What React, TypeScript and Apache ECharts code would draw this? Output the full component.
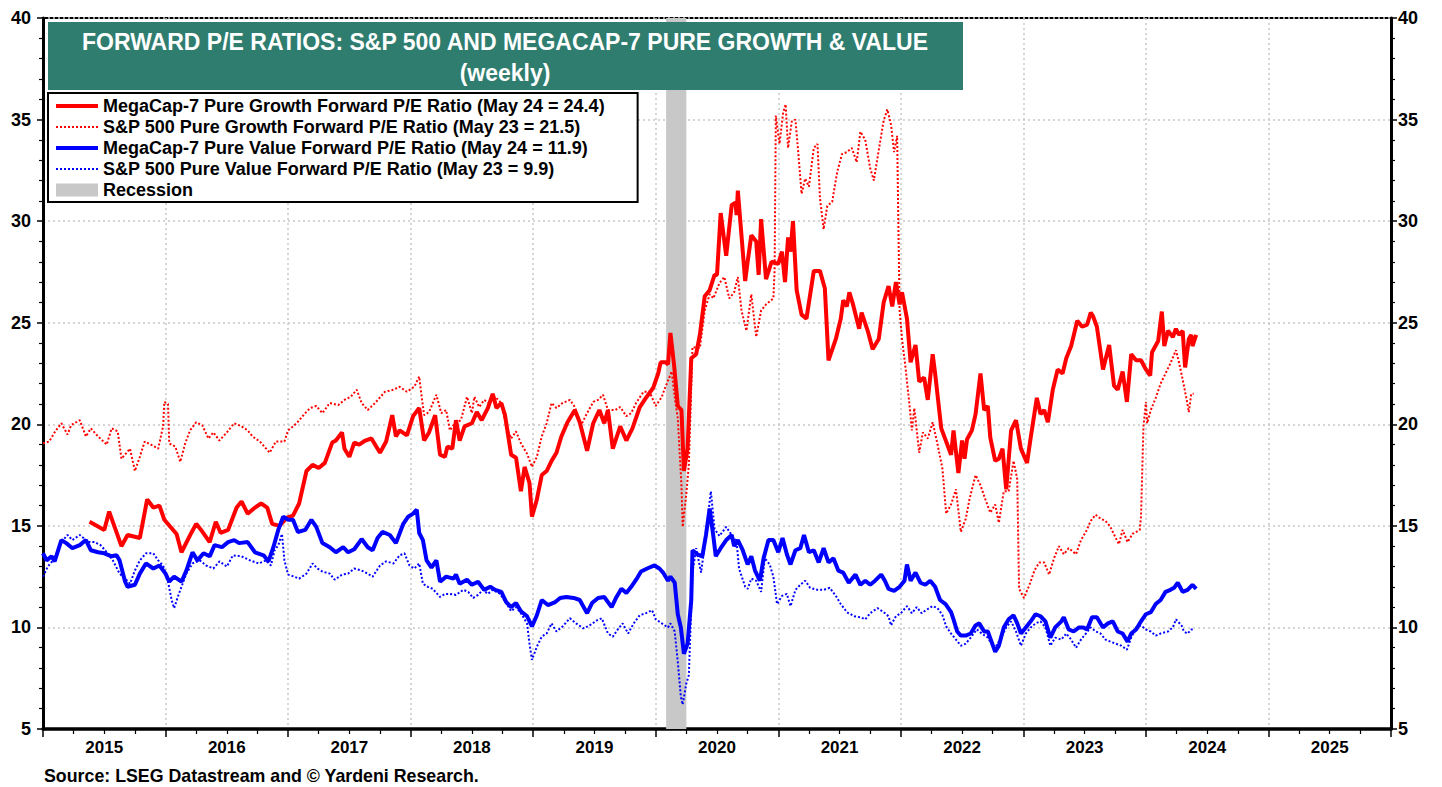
import React, { useEffect, useRef } from "react";
import * as echarts from "echarts";

// ---------- DATA (decimal year, P/E) ----------
const megaGrowth: [number, number][] = [
  [2015.38, 15.2], [2015.5, 14.8], [2015.54, 15.7], [2015.64, 14.0], [2015.69, 14.55], [2015.79, 14.4],
  [2015.85, 16.3], [2015.9, 15.9], [2015.95, 16.0], [2015.99, 15.3], [2016.09, 14.6], [2016.13, 13.7],
  [2016.21, 14.65], [2016.25, 15.1], [2016.29, 14.8], [2016.36, 14.2], [2016.41, 15.2], [2016.45, 14.65],
  [2016.51, 14.8], [2016.58, 15.9], [2016.62, 16.2], [2016.67, 15.6], [2016.73, 15.9], [2016.78, 16.1],
  [2016.83, 15.9], [2016.87, 15.1], [2016.93, 15.0], [2016.99, 15.4], [2017.04, 15.5], [2017.09, 16.1],
  [2017.15, 17.7], [2017.2, 18.0], [2017.25, 17.85], [2017.3, 18.1], [2017.36, 19.1], [2017.39, 19.2],
  [2017.44, 19.6], [2017.46, 18.8], [2017.5, 18.4], [2017.54, 19.1], [2017.58, 19.0], [2017.63, 19.2],
  [2017.68, 19.3], [2017.75, 18.6], [2017.8, 19.15], [2017.85, 20.45], [2017.88, 19.4], [2017.91, 19.7],
  [2017.97, 19.45], [2018.02, 20.4], [2018.07, 20.8], [2018.11, 19.2], [2018.15, 19.6], [2018.2, 20.45],
  [2018.24, 18.5], [2018.28, 18.4], [2018.3, 18.9], [2018.34, 18.8], [2018.37, 20.2], [2018.4, 19.2],
  [2018.44, 19.9], [2018.5, 20.05], [2018.54, 20.6], [2018.58, 20.2], [2018.63, 20.8], [2018.67, 21.5],
  [2018.7, 20.8], [2018.74, 21.05], [2018.77, 20.45], [2018.82, 18.5], [2018.86, 18.35], [2018.9, 16.7],
  [2018.93, 17.9], [2018.97, 17.1], [2018.99, 15.45], [2019.03, 16.3], [2019.07, 17.5], [2019.11, 17.7],
  [2019.15, 18.2], [2019.19, 18.6], [2019.23, 19.4], [2019.28, 20.1], [2019.34, 20.7], [2019.38, 20.1],
  [2019.44, 18.7], [2019.49, 20.05], [2019.54, 20.7], [2019.58, 20.05], [2019.61, 20.7], [2019.65, 18.8],
  [2019.71, 19.9], [2019.76, 19.2], [2019.81, 19.8], [2019.87, 20.85], [2019.92, 21.3], [2019.98, 21.8],
  [2020.02, 22.5], [2020.04, 23.05], [2020.08, 23.05], [2020.1, 22.95], [2020.12, 24.5], [2020.15, 22.9],
  [2020.18, 20.9], [2020.21, 20.7], [2020.23, 17.7], [2020.26, 18.8], [2020.29, 23.25], [2020.33, 23.45],
  [2020.36, 24.4], [2020.4, 26.3], [2020.44, 26.6], [2020.48, 27.35], [2020.5, 27.35], [2020.53, 30.4],
  [2020.575, 28.3], [2020.62, 30.8], [2020.65, 30.9], [2020.66, 30.3], [2020.67, 31.5], [2020.73, 27.05],
  [2020.75, 28.0], [2020.78, 29.3], [2020.82, 29.0], [2020.84, 27.35], [2020.86, 30.1], [2020.9, 27.15],
  [2020.945, 28.0], [2021.0, 27.9], [2021.03, 28.5], [2021.055, 27.0], [2021.08, 29.2], [2021.1, 28.5],
  [2021.12, 30.0], [2021.15, 26.6], [2021.19, 25.4], [2021.23, 25.2], [2021.29, 27.55], [2021.34, 27.55],
  [2021.38, 26.7], [2021.41, 23.15], [2021.47, 24.2], [2021.51, 25.2], [2021.53, 26.1], [2021.56, 25.8],
  [2021.58, 26.5], [2021.61, 25.9], [2021.66, 24.7], [2021.68, 25.5], [2021.73, 24.6], [2021.77, 23.7],
  [2021.82, 24.2], [2021.86, 26.0], [2021.9, 26.8], [2021.93, 25.8], [2021.96, 27.0], [2021.99, 25.9],
  [2022.01, 26.5], [2022.05, 25.2], [2022.08, 23.05], [2022.12, 23.9], [2022.15, 22.1], [2022.19, 22.3],
  [2022.22, 21.2], [2022.26, 23.45], [2022.28, 22.5], [2022.33, 19.8], [2022.41, 18.5], [2022.43, 19.7],
  [2022.47, 17.6], [2022.5, 19.2], [2022.52, 18.3], [2022.54, 19.25], [2022.58, 19.7], [2022.61, 20.5],
  [2022.65, 22.5], [2022.68, 20.7], [2022.71, 20.9], [2022.73, 19.35], [2022.77, 18.2], [2022.8, 18.3],
  [2022.83, 18.8], [2022.86, 16.8], [2022.9, 19.7], [2022.94, 20.2], [2022.98, 18.8], [2023.03, 18.1],
  [2023.06, 19.35], [2023.11, 21.3], [2023.14, 20.5], [2023.17, 20.7], [2023.2, 20.1], [2023.24, 21.7],
  [2023.28, 22.7], [2023.32, 22.5], [2023.35, 23.25], [2023.39, 23.85], [2023.44, 25.1], [2023.48, 24.8],
  [2023.52, 24.9], [2023.55, 25.5], [2023.57, 25.3], [2023.6, 24.8], [2023.65, 22.7], [2023.7, 23.9],
  [2023.74, 21.9], [2023.77, 21.7], [2023.81, 22.6], [2023.845, 21.1], [2023.88, 23.45], [2023.92, 23.15],
  [2023.96, 23.15], [2024.0, 22.7], [2024.035, 22.4], [2024.05, 23.55], [2024.1, 24.1], [2024.13, 25.55],
  [2024.15, 23.85], [2024.18, 24.6], [2024.22, 24.3], [2024.245, 24.7], [2024.27, 24.4], [2024.3, 24.6],
  [2024.32, 22.8], [2024.35, 24.2], [2024.37, 24.4], [2024.38, 23.85], [2024.41, 24.4],
];

const spGrowth: [number, number][] = [
  [2015.0, 19.06], [2015.05, 19.15], [2015.1, 19.65], [2015.15, 20.05], [2015.2, 19.5], [2015.23, 19.96],
  [2015.3, 20.2], [2015.35, 19.4], [2015.39, 19.8], [2015.45, 19.4], [2015.52, 19.0], [2015.56, 19.8],
  [2015.61, 19.65], [2015.64, 18.3], [2015.71, 18.8], [2015.75, 17.7], [2015.79, 18.4], [2015.83, 19.15],
  [2015.88, 19.0], [2015.94, 18.8], [2015.98, 19.9], [2015.99, 21.1], [2016.02, 21.0], [2016.03, 19.06],
  [2016.08, 18.9], [2016.12, 18.15], [2016.16, 19.05], [2016.2, 19.7], [2016.25, 20.1], [2016.3, 19.95],
  [2016.35, 19.3], [2016.39, 19.6], [2016.44, 19.2], [2016.5, 19.6], [2016.56, 20.05], [2016.62, 19.9],
  [2016.67, 19.7], [2016.71, 19.4], [2016.77, 19.15], [2016.85, 18.6], [2016.9, 19.15], [2016.97, 19.15],
  [2017.0, 19.7], [2017.07, 20.05], [2017.14, 20.55], [2017.18, 20.8], [2017.23, 20.9], [2017.28, 20.55],
  [2017.34, 21.05], [2017.41, 20.95], [2017.46, 21.2], [2017.51, 21.35], [2017.56, 21.7], [2017.6, 21.05],
  [2017.65, 20.7], [2017.71, 21.05], [2017.79, 21.6], [2017.86, 21.7], [2017.91, 21.85], [2017.97, 21.6],
  [2018.03, 21.85], [2018.07, 22.35], [2018.09, 21.35], [2018.11, 20.45], [2018.15, 20.6], [2018.21, 21.45],
  [2018.25, 20.55], [2018.29, 20.7], [2018.32, 19.7], [2018.36, 20.05], [2018.41, 20.2], [2018.46, 21.35],
  [2018.5, 20.55], [2018.52, 21.35], [2018.56, 20.85], [2018.6, 21.2], [2018.64, 21.05], [2018.69, 21.35],
  [2018.74, 21.05], [2018.78, 19.9], [2018.82, 19.3], [2018.86, 19.65], [2018.9, 19.06], [2018.95, 18.55],
  [2018.99, 17.9], [2019.03, 18.4], [2019.07, 19.4], [2019.11, 20.05], [2019.15, 21.05], [2019.19, 20.8],
  [2019.24, 21.05], [2019.3, 21.2], [2019.34, 20.85], [2019.39, 19.95], [2019.44, 20.55], [2019.49, 21.1],
  [2019.53, 21.2], [2019.57, 21.45], [2019.61, 20.7], [2019.67, 20.7], [2019.71, 20.85], [2019.76, 20.4],
  [2019.8, 20.55], [2019.84, 21.05], [2019.9, 21.6], [2019.95, 21.6], [2020.0, 20.9], [2020.05, 21.35],
  [2020.07, 21.7], [2020.13, 22.6], [2020.16, 21.1], [2020.18, 20.3], [2020.21, 17.0], [2020.22, 14.95],
  [2020.25, 16.6], [2020.27, 18.0], [2020.3, 23.8], [2020.36, 23.75], [2020.4, 25.6], [2020.44, 26.4],
  [2020.47, 26.2], [2020.52, 26.95], [2020.56, 27.25], [2020.6, 26.2], [2020.64, 26.5], [2020.67, 27.25],
  [2020.7, 25.6], [2020.74, 24.6], [2020.78, 26.4], [2020.82, 24.3], [2020.86, 25.6], [2020.9, 25.9],
  [2020.96, 26.2], [2020.97, 27.55], [2020.98, 35.2], [2021.01, 33.8], [2021.04, 35.35], [2021.06, 35.75],
  [2021.08, 33.6], [2021.11, 34.9], [2021.14, 35.0], [2021.16, 33.6], [2021.19, 31.35], [2021.22, 32.1],
  [2021.25, 31.7], [2021.29, 33.6], [2021.32, 33.8], [2021.34, 31.15], [2021.37, 29.6], [2021.4, 30.75],
  [2021.44, 30.95], [2021.48, 32.4], [2021.52, 33.3], [2021.56, 33.4], [2021.6, 33.6], [2021.64, 32.9],
  [2021.67, 34.4], [2021.71, 34.0], [2021.75, 32.6], [2021.78, 32.0], [2021.82, 33.5], [2021.86, 34.95],
  [2021.89, 35.5], [2021.92, 34.75], [2021.945, 33.4], [2021.97, 34.2], [2021.99, 25.6], [2022.01, 24.2],
  [2022.04, 22.7], [2022.07, 21.0], [2022.09, 19.7], [2022.11, 20.8], [2022.15, 18.6], [2022.18, 19.6],
  [2022.22, 19.3], [2022.26, 20.1], [2022.3, 19.0], [2022.34, 17.8], [2022.37, 15.6], [2022.41, 16.05],
  [2022.45, 16.8], [2022.49, 14.7], [2022.53, 15.35], [2022.56, 16.3], [2022.61, 17.5], [2022.65, 17.0],
  [2022.69, 16.3], [2022.73, 15.65], [2022.77, 16.05], [2022.8, 15.15], [2022.84, 16.7], [2022.88, 16.7],
  [2022.92, 18.2], [2022.95, 17.3], [2022.965, 11.9], [2023.005, 11.45], [2023.05, 12.1], [2023.09, 12.8],
  [2023.13, 13.2], [2023.17, 13.2], [2023.21, 12.6], [2023.25, 13.4], [2023.29, 14.0], [2023.33, 13.6],
  [2023.37, 13.9], [2023.43, 13.6], [2023.47, 14.3], [2023.51, 14.7], [2023.55, 15.25], [2023.59, 15.55],
  [2023.63, 15.35], [2023.67, 15.25], [2023.71, 14.95], [2023.75, 14.45], [2023.78, 14.1], [2023.81, 14.8],
  [2023.85, 14.2], [2023.89, 14.6], [2023.95, 14.8], [2023.96, 15.45], [2023.98, 19.9], [2024.0, 21.1],
  [2024.01, 20.05], [2024.04, 20.7], [2024.08, 21.3], [2024.12, 22.0], [2024.16, 22.5], [2024.2, 23.0],
  [2024.245, 23.65], [2024.27, 23.05], [2024.3, 22.2], [2024.33, 21.3], [2024.35, 20.6], [2024.37, 21.5],
  [2024.39, 21.5],
];

const megaValue: [number, number][] = [
  [2015.0, 13.65], [2015.03, 13.3], [2015.07, 13.5], [2015.095, 13.25], [2015.15, 14.3], [2015.19, 14.15],
  [2015.24, 13.9], [2015.3, 14.05], [2015.35, 14.3], [2015.39, 13.8], [2015.45, 13.7], [2015.5, 13.65],
  [2015.56, 13.5], [2015.6, 13.55], [2015.625, 13.3], [2015.67, 12.25], [2015.69, 12.0], [2015.75, 12.1],
  [2015.79, 12.65], [2015.84, 13.15], [2015.9, 12.9], [2015.95, 13.05], [2016.0, 12.65], [2016.03, 12.25],
  [2016.07, 12.5], [2016.13, 12.25], [2016.17, 12.8], [2016.22, 13.7], [2016.26, 13.3], [2016.31, 13.65],
  [2016.36, 13.5], [2016.4, 14.05], [2016.46, 13.95], [2016.51, 14.2], [2016.56, 14.3], [2016.6, 14.15],
  [2016.67, 14.2], [2016.73, 13.7], [2016.8, 13.55], [2016.84, 13.25], [2016.88, 13.95], [2016.92, 14.8],
  [2016.96, 15.45], [2017.0, 15.3], [2017.04, 15.3], [2017.08, 14.7], [2017.14, 14.8], [2017.19, 15.3],
  [2017.23, 14.95], [2017.28, 14.15], [2017.34, 13.95], [2017.39, 13.7], [2017.45, 13.95], [2017.49, 13.7],
  [2017.54, 13.85], [2017.6, 14.35], [2017.65, 13.95], [2017.69, 13.8], [2017.73, 14.4], [2017.77, 14.7],
  [2017.83, 14.55], [2017.88, 14.15], [2017.94, 15.1], [2017.98, 15.45], [2018.02, 15.6], [2018.05, 15.8],
  [2018.07, 14.65], [2018.1, 14.3], [2018.13, 13.3], [2018.17, 12.95], [2018.21, 13.3], [2018.24, 12.25],
  [2018.29, 12.5], [2018.35, 12.4], [2018.37, 12.6], [2018.4, 12.15], [2018.46, 12.35], [2018.5, 12.1],
  [2018.55, 12.25], [2018.6, 11.85], [2018.65, 12.0], [2018.69, 11.85], [2018.74, 11.75], [2018.78, 11.25],
  [2018.82, 11.0], [2018.86, 11.2], [2018.9, 10.8], [2018.95, 10.55], [2018.99, 10.05], [2019.03, 10.6],
  [2019.07, 11.35], [2019.12, 11.1], [2019.18, 11.25], [2019.22, 11.45], [2019.27, 11.5], [2019.33, 11.45],
  [2019.38, 11.35], [2019.44, 10.7], [2019.48, 11.2], [2019.53, 11.45], [2019.58, 11.5], [2019.64, 11.0],
  [2019.68, 11.5], [2019.72, 11.9], [2019.76, 11.7], [2019.8, 12.0], [2019.84, 12.35], [2019.88, 12.75],
  [2019.93, 12.9], [2019.99, 13.05], [2020.03, 12.9], [2020.06, 12.7], [2020.1, 12.3], [2020.12, 12.5],
  [2020.155, 12.2], [2020.18, 10.65], [2020.205, 10.0], [2020.23, 8.7], [2020.26, 9.2], [2020.29, 11.35],
  [2020.3, 13.8], [2020.34, 13.6], [2020.38, 13.5], [2020.41, 14.55], [2020.44, 15.85], [2020.47, 14.5],
  [2020.49, 13.5], [2020.53, 13.9], [2020.575, 14.3], [2020.62, 14.55], [2020.64, 14.0], [2020.67, 14.3],
  [2020.71, 13.8], [2020.75, 13.1], [2020.78, 13.5], [2020.81, 12.8], [2020.85, 12.3], [2020.88, 13.4],
  [2020.92, 14.3], [2020.96, 14.3], [2021.0, 13.7], [2021.035, 14.4], [2021.07, 13.6], [2021.1, 13.1],
  [2021.14, 13.8], [2021.18, 13.9], [2021.21, 14.55], [2021.25, 13.7], [2021.29, 13.8], [2021.33, 13.2],
  [2021.37, 13.9], [2021.41, 13.2], [2021.45, 13.4], [2021.49, 12.8], [2021.53, 12.7], [2021.575, 12.2],
  [2021.63, 12.6], [2021.67, 12.1], [2021.71, 12.3], [2021.75, 12.1], [2021.79, 12.3], [2021.84, 12.6],
  [2021.87, 12.3], [2021.9, 11.9], [2021.945, 11.8], [2021.99, 12.0], [2022.03, 12.3], [2022.05, 13.1],
  [2022.08, 12.3], [2022.12, 12.7], [2022.16, 12.2], [2022.2, 12.1], [2022.24, 12.3], [2022.28, 12.0],
  [2022.32, 11.35], [2022.365, 11.15], [2022.41, 10.75], [2022.43, 10.4], [2022.46, 9.8], [2022.49, 9.6],
  [2022.53, 9.6], [2022.57, 9.7], [2022.61, 10.1], [2022.64, 10.2], [2022.68, 9.8], [2022.71, 9.8],
  [2022.74, 9.3], [2022.77, 8.8], [2022.8, 9.1], [2022.84, 10.0], [2022.88, 10.4], [2022.92, 10.6],
  [2022.95, 10.2], [2022.98, 9.7], [2023.02, 10.0], [2023.06, 10.3], [2023.1, 10.65], [2023.14, 10.55],
  [2023.18, 10.3], [2023.22, 9.5], [2023.26, 10.0], [2023.31, 10.3], [2023.33, 10.5], [2023.37, 9.9],
  [2023.41, 9.8], [2023.455, 10.0], [2023.49, 10.0], [2023.52, 9.9], [2023.56, 10.5], [2023.6, 10.5],
  [2023.65, 10.0], [2023.69, 10.2], [2023.73, 10.3], [2023.77, 9.8], [2023.81, 9.7], [2023.85, 9.3],
  [2023.88, 9.7], [2023.92, 9.9], [2023.96, 10.3], [2024.0, 10.65], [2024.04, 10.75], [2024.08, 11.15],
  [2024.12, 11.35], [2024.16, 11.75], [2024.2, 11.85], [2024.23, 11.95], [2024.26, 12.2], [2024.3, 11.75],
  [2024.34, 11.85], [2024.38, 12.1], [2024.41, 11.9],
];

const spValue: [number, number][] = [
  [2015.0, 12.5], [2015.04, 13.0], [2015.095, 13.4], [2015.15, 14.2], [2015.2, 14.55], [2015.24, 14.3],
  [2015.3, 14.55], [2015.37, 14.2], [2015.42, 14.2], [2015.47, 14.05], [2015.52, 13.7], [2015.57, 13.3],
  [2015.625, 12.65], [2015.67, 12.4], [2015.71, 12.15], [2015.75, 12.8], [2015.79, 13.3], [2015.84, 13.65],
  [2015.9, 13.65], [2015.94, 13.3], [2015.98, 13.05], [2016.02, 12.25], [2016.05, 11.35], [2016.07, 10.95],
  [2016.1, 11.5], [2016.13, 12.0], [2016.17, 12.65], [2016.22, 13.15], [2016.28, 13.3], [2016.33, 13.05],
  [2016.39, 12.9], [2016.44, 13.25], [2016.5, 13.0], [2016.55, 13.55], [2016.62, 13.5], [2016.69, 13.3],
  [2016.76, 13.15], [2016.82, 13.3], [2016.86, 13.05], [2016.89, 13.8], [2016.92, 14.05], [2016.95, 14.6],
  [2016.97, 13.3], [2017.0, 12.6], [2017.05, 12.5], [2017.09, 12.4], [2017.15, 12.65], [2017.2, 13.15],
  [2017.24, 12.9], [2017.28, 12.75], [2017.34, 12.65], [2017.38, 12.35], [2017.44, 12.6], [2017.49, 12.65],
  [2017.54, 12.9], [2017.6, 12.8], [2017.65, 12.65], [2017.69, 12.5], [2017.75, 13.05], [2017.8, 13.25],
  [2017.86, 13.15], [2017.91, 13.55], [2017.95, 13.65], [2017.99, 13.05], [2018.03, 12.9], [2018.07, 13.15],
  [2018.1, 12.15], [2018.14, 12.0], [2018.18, 11.9], [2018.24, 11.5], [2018.28, 11.65], [2018.32, 11.65],
  [2018.37, 11.6], [2018.43, 11.85], [2018.47, 11.75], [2018.51, 11.45], [2018.55, 11.6], [2018.59, 11.85],
  [2018.63, 11.65], [2018.67, 11.85], [2018.73, 11.65], [2018.78, 11.2], [2018.82, 10.8], [2018.86, 11.0],
  [2018.9, 10.7], [2018.95, 10.2], [2018.97, 9.2], [2018.99, 8.4], [2019.03, 9.05], [2019.07, 9.55],
  [2019.11, 9.7], [2019.15, 10.2], [2019.19, 9.8], [2019.24, 10.05], [2019.3, 10.45], [2019.35, 10.2],
  [2019.41, 9.95], [2019.46, 10.1], [2019.52, 10.35], [2019.56, 10.45], [2019.61, 9.7], [2019.65, 9.55],
  [2019.69, 9.9], [2019.73, 10.2], [2019.775, 9.7], [2019.82, 10.2], [2019.87, 10.6], [2019.92, 10.7],
  [2019.97, 10.85], [2020.0, 10.4], [2020.05, 10.2], [2020.1, 10.0], [2020.12, 10.2], [2020.155, 9.8],
  [2020.18, 8.3], [2020.205, 6.6], [2020.22, 6.2], [2020.25, 7.25], [2020.27, 7.65], [2020.3, 12.7],
  [2020.33, 13.9], [2020.37, 12.7], [2020.41, 14.5], [2020.44, 16.2], [2020.45, 16.7], [2020.48, 14.85],
  [2020.52, 14.5], [2020.575, 14.95], [2020.62, 14.55], [2020.66, 14.2], [2020.68, 12.9], [2020.73, 12.0],
  [2020.75, 11.9], [2020.78, 12.4], [2020.82, 12.3], [2020.86, 11.75], [2020.89, 13.4], [2020.93, 13.1],
  [2020.96, 12.5], [2020.99, 11.15], [2021.03, 11.55], [2021.07, 11.65], [2021.1, 11.05], [2021.14, 11.85],
  [2021.18, 12.1], [2021.22, 12.3], [2021.26, 11.95], [2021.32, 11.85], [2021.37, 11.85], [2021.42, 11.95],
  [2021.47, 11.55], [2021.51, 11.15], [2021.56, 10.75], [2021.62, 10.55], [2021.67, 10.5], [2021.71, 10.4],
  [2021.75, 10.7], [2021.81, 10.95], [2021.86, 10.75], [2021.9, 10.55], [2021.92, 10.1], [2021.96, 10.55],
  [2022.0, 10.7], [2022.05, 11.05], [2022.09, 10.7], [2022.13, 11.0], [2022.17, 10.7], [2022.205, 10.85],
  [2022.26, 11.05], [2022.3, 10.95], [2022.34, 10.6], [2022.37, 10.05], [2022.41, 9.7], [2022.45, 9.4],
  [2022.49, 9.1], [2022.53, 9.2], [2022.57, 9.5], [2022.62, 9.9], [2022.66, 9.7], [2022.71, 9.5],
  [2022.75, 9.1], [2022.77, 9.0], [2022.81, 9.4], [2022.86, 10.0], [2022.9, 10.3], [2022.94, 9.8],
  [2022.98, 9.1], [2023.02, 9.7], [2023.06, 10.0], [2023.1, 10.2], [2023.14, 10.3], [2023.18, 10.0],
  [2023.22, 9.1], [2023.26, 9.5], [2023.31, 9.4], [2023.35, 9.7], [2023.39, 9.4], [2023.43, 9.0],
  [2023.47, 9.4], [2023.51, 9.7], [2023.55, 10.0], [2023.59, 9.8], [2023.63, 9.7], [2023.67, 9.4],
  [2023.71, 9.3], [2023.755, 9.2], [2023.8, 9.1], [2023.845, 8.9], [2023.88, 9.5], [2023.92, 10.0],
  [2023.96, 10.1], [2024.0, 9.9], [2024.04, 9.8], [2024.08, 9.6], [2024.12, 9.7], [2024.18, 9.8],
  [2024.22, 10.0], [2024.245, 10.4], [2024.29, 10.1], [2024.31, 9.8], [2024.34, 9.7], [2024.37, 9.9],
  [2024.39, 9.9],
];

const recession: [number, number] = [2020.085, 2020.25];

const yearLabels = ["2015", "2016", "2017", "2018", "2019", "2020", "2021", "2022", "2023", "2024", "2025"];
const yTicks = { min: 5, max: 40, step: 5 };

const seriesNames = [
  "MegaCap-7 Pure Growth Forward P/E Ratio (May 24 = 24.4)",
  "S&P 500 Pure Growth Forward P/E Ratio (May 23 = 21.5)",
  "MegaCap-7 Pure Value Forward P/E Ratio (May 24 = 11.9)",
  "S&P 500 Pure Value Forward P/E Ratio (May 23 = 9.9)",
  "Recession",
];

const titleLines = ["FORWARD P/E RATIOS: S&P 500 AND MEGACAP-7 PURE GROWTH & VALUE", "(weekly)"];
const sourceText = "Source: LSEG Datastream and \u00A9 Yardeni Research.";

const FONT = 'Arial, "Liberation Sans", Helvetica, sans-serif';
const RED = "#ff0000";
const BLUE = "#0000ff";
const GRAY = "#c8c8c8";
const GREEN = "#2e7d6f";

export default function App() {
  const ref = useRef<HTMLDivElement>(null);

  useEffect(() => {
    if (!ref.current) return;
    const chart = echarts.init(ref.current, undefined, { renderer: "svg" });
    const firstYear = Number(yearLabels[0]);
    const lastYear = Number(yearLabels[yearLabels.length - 1]) + 1;

    const yAxisBase = (pos: "left" | "right") => ({
      type: "value",
      position: pos,
      min: yTicks.min,
      max: yTicks.max,
      interval: yTicks.step,
      axisLine: { show: true, lineStyle: { color: "#000", width: 3 } },
      axisTick: { show: true, length: 6, lineStyle: { color: "#000", width: 1.5 } },
      minorTick: { show: true, splitNumber: 5, length: 4, lineStyle: { color: "#000", width: 1.2 } },
      axisLabel: {
        color: "#000",
        fontFamily: FONT,
        fontWeight: "bold",
        fontSize: 18,
        margin: pos === "left" ? 12 : 7,
        formatter: "{b|{value}}",
        rich: {
          b: { color: "#000", fontFamily: FONT, fontWeight: "bold", fontSize: 18 },
        },
      },
      splitLine: {
        show: pos === "left",
        lineStyle: { color: GRAY, type: [2, 3], width: 1.5 },
      },
    });

    const lineSeries = (name: string, data: [number, number][], color: string, dotted: boolean, z: number) => ({
      name,
      type: "line",
      data,
      xAxisIndex: 0,
      yAxisIndex: 0,
      showSymbol: false,
      symbol: "none",
      z,
      color,
      lineStyle: dotted ? { color, width: 2, type: [2, 2] } : { color, width: 4, type: "solid" },
    });

    chart.setOption({
      animation: false,
      backgroundColor: "#fff",
      grid: {
        left: 43,
        right: 51,
        top: 18,
        bottom: 58,
        show: true,
        borderColor: "#000",
        borderWidth: 2,
        backgroundColor: "transparent",
      },
      xAxis: [
        {
          type: "value",
          min: firstYear,
          max: lastYear,
          interval: 1,
          position: "bottom",
          axisLine: { show: true, onZero: false, lineStyle: { color: "#000", width: 3.5 } },
          axisTick: { show: true, length: 8, lineStyle: { color: "#000", width: 1.5 } },
          minorTick: { show: true, splitNumber: 4, length: 5, lineStyle: { color: "#000", width: 1.2 } },
          axisLabel: { show: false },
          splitLine: { show: true, lineStyle: { color: GRAY, type: [2, 3], width: 1.5 } },
        },
        {
          type: "value",
          min: firstYear,
          max: lastYear,
          interval: 0.5,
          position: "bottom",
          offset: 0,
          axisLine: { show: false, onZero: false },
          axisTick: { show: false },
          splitLine: { show: false },
          axisLabel: {
            color: "#000",
            fontFamily: FONT,
            fontWeight: 700,
            fontSize: 17,
            margin: 10,
            formatter: (v: number) => {
              const i = Math.floor(v + 1e-6) - firstYear;
              const frac = v - Math.floor(v + 1e-6);
              return Math.abs(frac - 0.5) < 0.01 && yearLabels[i] ? yearLabels[i] : "";
            },
          },
        },
      ],
      yAxis: [yAxisBase("left"), yAxisBase("right")],
      legend: {
        orient: "vertical",
        left: 48,
        top: 93,
        padding: [4, 33, 3, 6],
        itemGap: 3,
        itemWidth: 42,
        itemHeight: 13,
        backgroundColor: "#fff",
        borderColor: "#000",
        borderWidth: 2,
        borderRadius: 0,
        selectedMode: false,
        itemStyle: { opacity: 0 },
        lineStyle: { width: "inherit", type: "inherit" },
        textStyle: { color: "#000", fontFamily: FONT, fontWeight: 700, fontSize: 18, lineHeight: 18 },
        data: [
          { name: seriesNames[0] },
          { name: seriesNames[1] },
          { name: seriesNames[2] },
          { name: seriesNames[3] },
          { name: seriesNames[4], icon: "rect", itemStyle: { color: GRAY, opacity: 1 } },
        ],
      },
      series: [
        {
          name: seriesNames[4],
          type: "line",
          data: [],
          color: GRAY,
          symbol: "none",
          z: 1,
          markArea: {
            silent: true,
            itemStyle: { color: GRAY },
            data: [[{ xAxis: recession[0] }, { xAxis: recession[1] }]],
          },
        },
        lineSeries(seriesNames[0], megaGrowth, RED, false, 3),
        lineSeries(seriesNames[1], spGrowth, RED, true, 4),
        lineSeries(seriesNames[2], megaValue, BLUE, false, 3),
        lineSeries(seriesNames[3], spValue, BLUE, true, 4),
      ],
      graphic: [
        {
          type: "rect",
          z: 100,
          shape: { x: 48, y: 22, width: 915, height: 68 },
          style: { fill: GREEN },
        },
        {
          type: "text",
          z: 101,
          x: 505,
          y: 42,
          style: {
            text: titleLines[0],
            fill: "#fff",
            font: `bold 23px ${FONT}`,
            textAlign: "center",
            textVerticalAlign: "middle",
          },
        },
        {
          type: "text",
          z: 101,
          x: 505,
          y: 73,
          style: {
            text: titleLines[1],
            fill: "#fff",
            font: `bold 23px ${FONT}`,
            textAlign: "center",
            textVerticalAlign: "middle",
          },
        },
        {
          type: "text",
          z: 101,
          x: 44,
          y: 776,
          style: {
            text: sourceText,
            fill: "#000",
            font: `bold 17.8px ${FONT}`,
            textAlign: "left",
            textVerticalAlign: "middle",
          },
        },
      ],
    });
    return () => chart.dispose();
  }, []);

  return (
    <div
      ref={ref}
      style={{ position: "absolute", left: 0, top: 0, width: 1442, height: 787, background: "#fff" }}
    />
  );
}
